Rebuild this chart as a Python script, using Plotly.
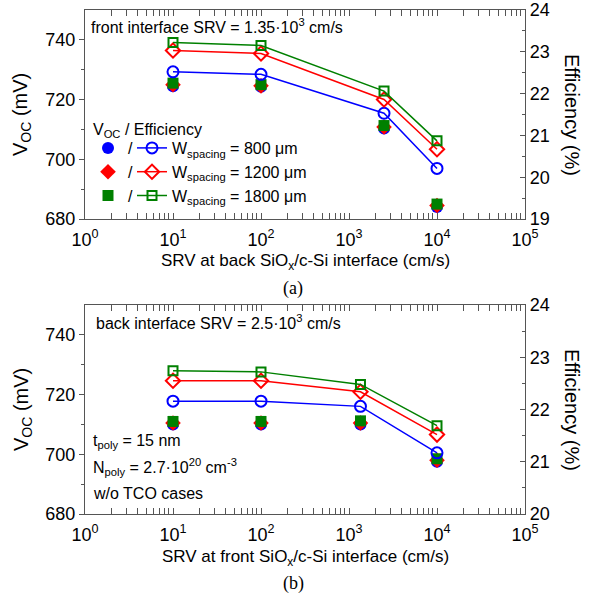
import plotly.graph_objects as go

# ---------------- data ----------------
srv_a = [10, 100, 2500, 10000]          # back SRV (panel a)
srv_b = [10, 100, 1350, 10000]          # front SRV (panel b)

voc_a_800 = [724.5, 724.3, 710.3, 684.0]
voc_a_1200 = [725.0, 724.6, 710.8, 684.5]
voc_a_1800 = [725.5, 725.0, 711.3, 685.0]
eff_a_800 = [22.52, 22.46, 21.53, 20.21]
eff_a_1200 = [23.03, 22.96, 21.86, 20.67]
eff_a_1800 = [23.22, 23.15, 22.06, 20.87]

voc_b_800 = [710.0, 710.0, 710.0, 697.5]
voc_b_1200 = [710.5, 710.5, 710.5, 698.0]
voc_b_1800 = [711.0, 711.0, 711.2, 698.5]
eff_b_800 = [22.16, 22.16, 22.06, 21.17]
eff_b_1200 = [22.55, 22.55, 22.34, 21.52]
eff_b_1800 = [22.74, 22.72, 22.48, 21.69]

series_names = ["W<sub>spacing</sub> = 800 \u03bcm",
                "W<sub>spacing</sub> = 1200 \u03bcm",
                "W<sub>spacing</sub> = 1800 \u03bcm"]
colors = ["#0000FF", "#FF0000", "#008000"]
filled_symbols = ["circle", "diamond", "square"]
open_symbols = ["circle-open", "diamond-open", "square-open"]

x_tickvals = [1, 10, 100, 1000, 10000, 100000]
x_ticktext = ["10<sup>%d</sup>" % i for i in range(6)]
x_minor = [m * 10 ** k for k in range(5) for m in range(2, 10)]

FONT = "Liberation Sans, Arial, sans-serif"
W, H = 589, 598


def px(x):
    return x / W


def py(y):
    return 1 - y / H


fig = go.Figure()

panels = [
    (srv_a, [voc_a_800, voc_a_1200, voc_a_1800], [eff_a_800, eff_a_1200, eff_a_1800], "x", "y", "y2", True),
    (srv_b, [voc_b_800, voc_b_1200, voc_b_1800], [eff_b_800, eff_b_1200, eff_b_1800], "x2", "y3", "y4", False),
]

for srv, vocs, effs, xa, ya, yb, show in panels:
    for i in range(3):
        fig.add_trace(go.Scatter(
            x=srv, y=effs[i], xaxis=xa, yaxis=yb, mode="lines+markers",
            line=dict(color=colors[i], width=1.5),
            marker=dict(symbol=open_symbols[i], size=11 if i < 2 else 9,
                        color=colors[i], line=dict(width=2, color=colors[i])),
            name=series_names[i], showlegend=show, legend="legend2"))
    for i in range(3):
        fig.add_trace(go.Scatter(
            x=srv, y=vocs[i], xaxis=xa, yaxis=ya, mode="markers",
            marker=dict(symbol=filled_symbols[i], size=12 if i < 2 else 11,
                        color=colors[i], line=dict(width=0)),
            name="/", showlegend=show, legend="legend"))

xdom = [px(85), px(525)]
ytop = [py(219), py(10)]
ybot = [py(514), py(305)]
axcol = "#555555"
tickfont = dict(family=FONT, size=18, color="black")


def xaxis_cfg(anchor):
    return dict(domain=xdom, anchor=anchor, type="log", range=[0, 5],
                tickmode="array", tickvals=x_tickvals, ticktext=x_ticktext,
                ticks="inside", ticklen=6, tickcolor=axcol, showline=True,
                linecolor=axcol, linewidth=1.2, mirror="allticks",
                showgrid=False, zeroline=False, tickfont=tickfont,
                ticklabelstandoff=4, automargin=False,
                minor=dict(tickmode="array", tickvals=x_minor, ticks="inside",
                           ticklen=3, tickcolor=axcol, showgrid=False))


def yleft_cfg(dom, anchor):
    return dict(domain=dom, anchor=anchor, range=[680, 750],
                tickvals=[680, 700, 720, 740], ticks="outside", ticklen=5,
                tickcolor=axcol, showline=True, linecolor=axcol, linewidth=1.2,
                mirror=True, showgrid=False, zeroline=False, tickfont=tickfont,
                automargin=False,
                minor=dict(tickvals=[690, 710, 730], ticks="outside", ticklen=3,
                           tickcolor=axcol, showgrid=False))


def yright_cfg(overlay, anchor, rng, vals):
    return dict(overlaying=overlay, anchor=anchor, side="right", range=rng,
                tickvals=vals, ticks="inside", ticklen=5, tickcolor=axcol,
                showline=True, linecolor=axcol, linewidth=1.2, showgrid=False,
                zeroline=False, tickfont=tickfont, automargin=False,
                minor=dict(tickvals=[v + 0.5 for v in vals[:-1]], ticks="inside",
                           ticklen=3, tickcolor=axcol, showgrid=False))


fig.update_layout(
    width=W, height=H, margin=dict(l=0, r=0, t=0, b=0, autoexpand=False),
    paper_bgcolor="white", plot_bgcolor="white",
    font=dict(family=FONT, size=16, color="black"),
    xaxis=xaxis_cfg("y"),
    xaxis2=xaxis_cfg("y3"),
    yaxis=yleft_cfg(ytop, "x"),
    yaxis2=yright_cfg("y", "x", [19, 24], [19, 20, 21, 22, 23, 24]),
    yaxis3=yleft_cfg(ybot, "x2"),
    yaxis4=yright_cfg("y3", "x2", [20, 24], [20, 21, 22, 23, 24]),
    legend=dict(x=px(88), y=py(131), xanchor="left", yanchor="top",
                bgcolor="rgba(0,0,0,0)", font=dict(family=FONT, size=16),
                tracegroupgap=0, itemwidth=30),
    legend2=dict(x=px(132), y=py(131), xanchor="left", yanchor="top",
                 bgcolor="rgba(0,0,0,0)", font=dict(family=FONT, size=16),
                 tracegroupgap=0, itemwidth=30),
)


def ann(text, x, y, size=16, xanchor="left", angle=0, family=FONT):
    fig.add_annotation(text=text, x=px(x), y=py(y), xref="paper", yref="paper",
                       xanchor=xanchor, yanchor="middle", showarrow=False,
                       textangle=angle, font=dict(family=family, size=size, color="black"))


ann("front interface SRV = 1.35\u00b710<sup>3</sup> cm/s", 89, 26)
ann("V<sub>OC</sub> / Efficiency", 91, 131)
ann("back interface SRV = 2.5\u00b710<sup>3</sup> cm/s", 94, 322)
ann("t<sub>poly</sub> = 15 nm", 91, 442)
ann("N<sub>poly</sub> = 2.7\u00b710<sup>20</sup> cm<sup>-3</sup>", 91, 467)
ann("w/o TCO cases", 91, 493)

ann("SRV at back SiO<sub>x</sub>/c-Si interface (cm/s)", 305, 262, size=17, xanchor="center")
ann("SRV at front SiO<sub>x</sub>/c-Si interface (cm/s)", 305, 558, size=17, xanchor="center")
ann("(a)", 293, 288, size=18, xanchor="center", family="Liberation Serif, Times New Roman, serif")
ann("(b)", 293, 583, size=18, xanchor="center", family="Liberation Serif, Times New Roman, serif")

for yy in (115, 410):
    ann("V<sub>OC</sub> (mV)", 22, yy, size=20, xanchor="center", angle=-90)
for yy in (115, 410):
    ann("Efficiency (%)", 572, yy, size=20, xanchor="center", angle=90)

fig.write_html("out.html",
               config={"displayModeBar": False},
               post_script="document.body.style.margin='0';"
                           "document.body.style.overflow='hidden';")
